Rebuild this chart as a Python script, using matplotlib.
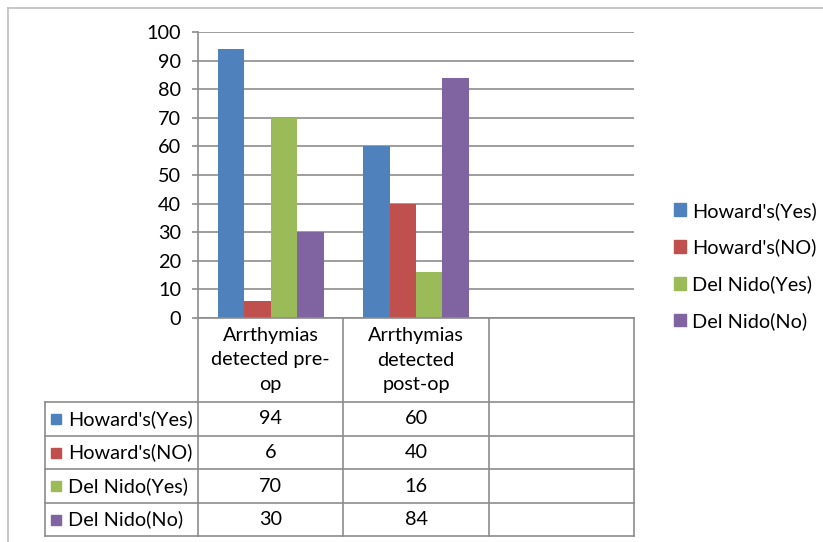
import matplotlib
matplotlib.use("Agg")
import matplotlib.pyplot as plt
import matplotlib.transforms as mtransforms
from matplotlib.lines import Line2D
from matplotlib.patches import Rectangle
import numpy as np

categories = ["Arrthymias\ndetected pre-\nop", "Arrthymias\ndetected\npost-op", ""]
series_names = ["Howard's(Yes)", "Howard's(NO)", "Del Nido(Yes)", "Del Nido(No)"]
howards_yes = [94, 60]
howards_no = [6, 40]
delnido_yes = [70, 16]
delnido_no = [30, 84]
colors = ["#4F81BD", "#C0504D", "#9BBB59", "#8064A2"]
yticks = list(range(0, 101, 10))

series = [howards_yes, howards_no, delnido_yes, delnido_no]

plt.rcParams['font.family'] = ['Lato', 'DejaVu Sans']
FS = 14.3
LINE = "#8C8C8C"

W, H = 823, 542
fig = plt.figure(figsize=(W / 100, H / 100), dpi=100)

def fy(py):
    return 1 - py / H

def fx(px):
    return px / W

# plot area
ax = fig.add_axes([fx(198), fy(318), fx(634) - fx(198), fy(32) - fy(318)])
ax.set_xlim(-0.5, len(categories) - 0.5)
ax.set_ylim(0, 100)

bw = 0.182
x = np.arange(len(howards_yes))
for i, (vals, c) in enumerate(zip(series, colors)):
    ax.bar(x + (i - 1.5) * bw, vals, width=bw, color=c, zorder=3)

ax.set_yticks(yticks)
ax.set_yticklabels([str(t) for t in yticks], fontsize=FS)
ax.yaxis.grid(True, color=LINE, linewidth=1.2, zorder=0)
ax.set_xticks([])
for s in ["top", "right", "bottom"]:
    ax.spines[s].set_visible(False)
ax.spines["left"].set_color(LINE)
ax.spines["left"].set_linewidth(1.2)
ax.tick_params(axis="y", length=4.3, color=LINE, width=1.2, pad=8)

# data table below the axes
tr = mtransforms.blended_transform_factory(ax.transData, fig.transFigure)
xb = [-0.5 + k for k in range(len(categories) + 1)]
row_y = [318, 402, 436, 469, 503, 536]
left_px = 45

for yy in row_y:
    fig.add_artist(Line2D([xb[0], xb[-1]], [fy(yy), fy(yy)], transform=tr,
                          color=LINE, linewidth=1.2))
for yy in row_y[1:]:
    fig.add_artist(Line2D([fx(left_px), fx(198)], [fy(yy), fy(yy)],
                          transform=fig.transFigure, color=LINE, linewidth=1.2))
for xv in xb:
    fig.add_artist(Line2D([xv, xv], [fy(row_y[0]), fy(row_y[-1])], transform=tr,
                          color=LINE, linewidth=1.2))
fig.add_artist(Line2D([fx(left_px), fx(left_px)], [fy(row_y[1]), fy(row_y[-1])],
                      transform=fig.transFigure, color=LINE, linewidth=1.2))

for k, cat in enumerate(categories):
    fig.text(k, fy((row_y[0] + row_y[1]) / 2), cat, transform=tr, ha="center",
             va="center", fontsize=FS, linespacing=1.55)

for r, (name, vals, c) in enumerate(zip(series_names, series, colors)):
    yc = fy((row_y[r + 1] + row_y[r + 2]) / 2)
    fig.add_artist(Rectangle((fx(51), yc - 5 / H), 10 / W, 10 / H,
                             transform=fig.transFigure, color=c))
    fig.text(fx(68), yc, name, ha="left", va="center", fontsize=FS)
    for k, v in enumerate(vals):
        fig.text(k, yc, str(v), transform=tr, ha="center", va="center", fontsize=FS)

# legend on the right
handles = [Rectangle((0, 0), 1, 1, color=c) for c in colors]
fig.legend(handles, series_names, loc="center left", bbox_to_anchor=(fx(666), fy(266)),
           frameon=False, fontsize=FS, handlelength=0.6, handleheight=0.6,
           handletextpad=0.3, labelspacing=0.95, borderaxespad=0)

# outer chart frame
fig.add_artist(Line2D([fx(8), fx(8)], [0, fy(8)], transform=fig.transFigure,
                      color="#BFBFBF", linewidth=1.2))
fig.add_artist(Line2D([fx(8), 1], [fy(8), fy(8)], transform=fig.transFigure,
                      color="#BFBFBF", linewidth=1.2))

fig.savefig("out.png", dpi=100)
